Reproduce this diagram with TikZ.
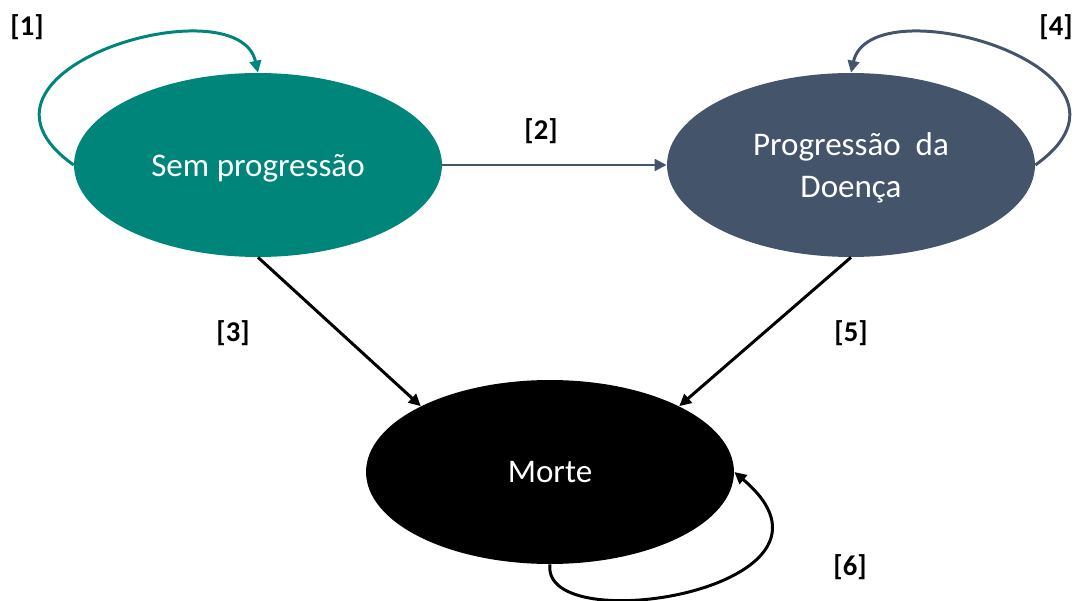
\documentclass[tikz,border=0pt]{standalone}
\usepackage{fontspec}
\setmainfont{Carlito}
\usetikzlibrary{arrows.meta,positioning,shapes.geometric}
\definecolor{tealstate}{RGB}{0,133,122}
\definecolor{slatestate}{RGB}{68,84,106}

\begin{document}
\begin{tikzpicture}[x=0.02cm,y=-0.02cm,
  state/.style={ellipse,minimum width=7.36cm,minimum height=3.68cm,inner sep=0pt,
    text=white,align=center,text depth=0pt,font=\fontsize{18.8}{24}\selectfont},
  tag/.style={font=\fontsize{16.3}{19}\selectfont\bfseries},
  link/.style={line width=1.7pt,-{Triangle[length=2.4mm,width=2.3mm]}}]
\useasboundingbox (0,0) rectangle (1076,601);
% states
\node[state,fill=tealstate] (semprog) at (258,165) {Sem progressão};
\node[state,fill=slatestate] (progdoenca) at (851,165) {Progressão\ \ da\\Doença};
\node[state,fill=black] (morte) at (550,472) {Morte};
% transitions
\draw[link,slatestate] (semprog.east) -- (progdoenca.west);
\draw[link] (semprog.south) -- (morte.153);
\draw[link] (progdoenca.south) -- (morte.27);
\draw[link,tealstate] (semprog.west) .. controls +(-134,-95) and +(-20,-90) .. (semprog.north);
\draw[link,slatestate] (progdoenca.east) .. controls +(134,-95) and +(20,-90) .. (progdoenca.north);
\draw[link] (morte.south) .. controls +(-10,77) and +(137,116) .. (morte.east);
% labels
\node[tag] (t1) at (27,27) {[1]};
\node[tag] (t2) at (541,131) {[2]};
\node[tag] (t3) at (233,333) {[3]};
\node[tag] (t4) at (1056,27) {[4]};
\node[tag] (t5) at (851,333) {[5]};
\node[tag] (t6) at (850,567) {[6]};
\end{tikzpicture}
\end{document}
